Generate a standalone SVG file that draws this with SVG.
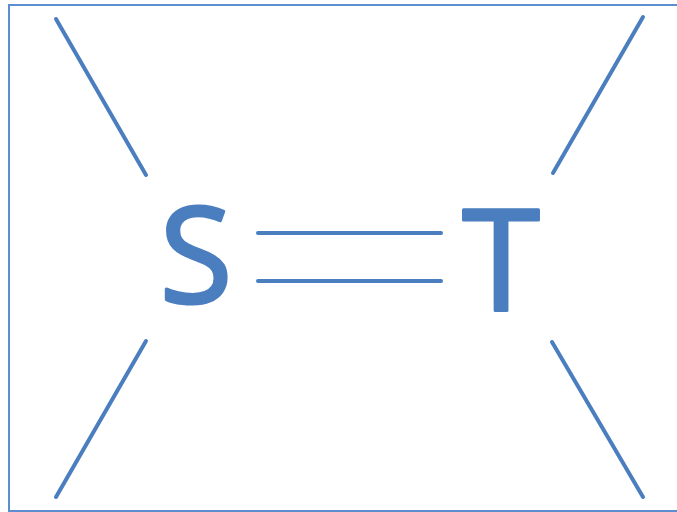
<svg xmlns="http://www.w3.org/2000/svg" width="677" height="512" viewBox="0 0 677 512">
<style>
.bond{stroke:#4a7ebf;stroke-width:4;stroke-linecap:round;fill:none}
.atom{font-family:"Open Sans","Liberation Sans",sans-serif;fill:#4a7ebf;stroke:#4a7ebf;stroke-width:3;stroke-linejoin:round;text-anchor:middle}
</style>
<rect x="0" y="0" width="677" height="512" fill="#ffffff"/>
<rect x="9" y="5" width="672" height="506" fill="none" stroke="#5b8fd0" stroke-width="2"/>
<g id="S"><text class="atom" x="196" y="303" font-size="133">S</text></g>
<g id="T"><text class="atom" x="501" y="311" font-size="141">T</text></g>
<g id="connectors">
<line class="bond" x1="56" y1="19" x2="146" y2="175"/>
<line class="bond" x1="146" y1="341" x2="56" y2="497"/>
<line class="bond" x1="643" y1="17" x2="553" y2="173"/>
<line class="bond" x1="552" y1="342" x2="643" y2="497"/>
<line class="bond" x1="258" y1="233" x2="441" y2="233"/>
<line class="bond" x1="258" y1="281" x2="441" y2="281"/>
</g>
</svg>
